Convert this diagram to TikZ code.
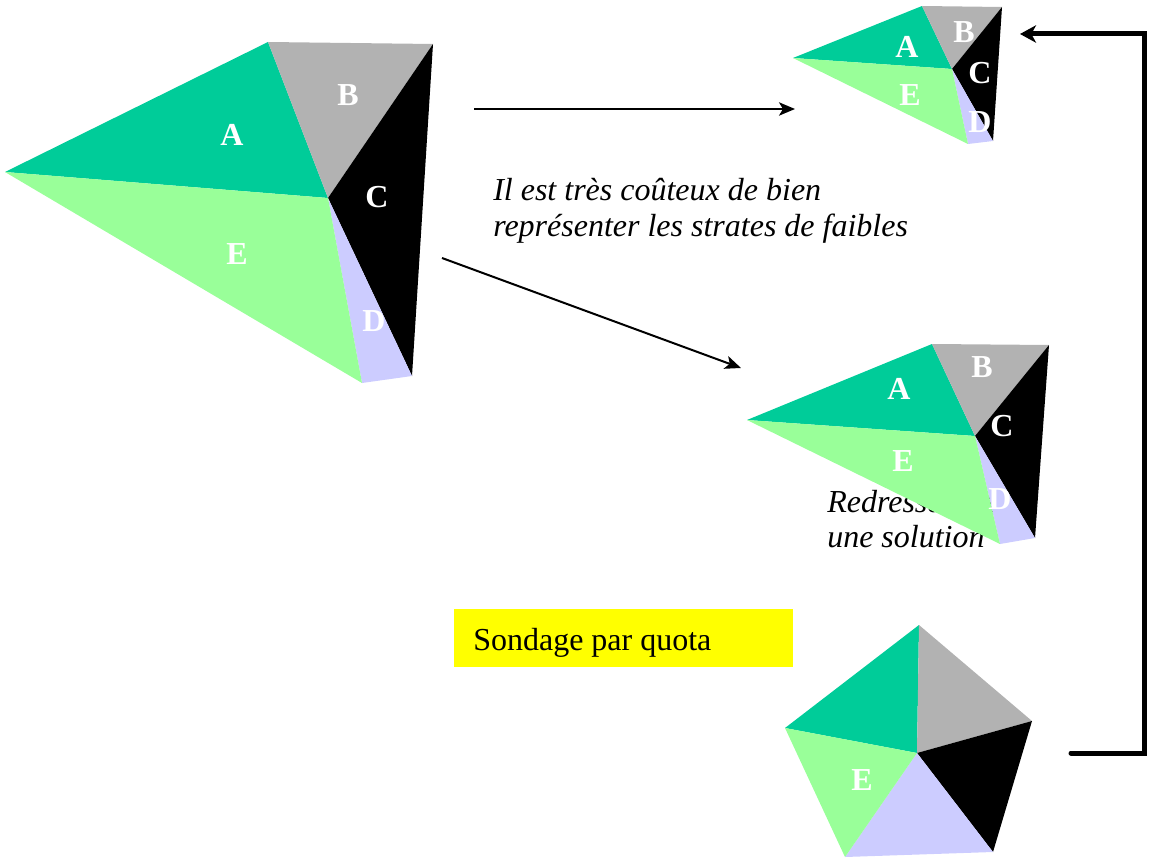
\documentclass[tikz,border=0pt]{standalone}
\usepackage{fontspec}
\setmainfont{Liberation Serif}
\usetikzlibrary{arrows.meta}
\definecolor{colA}{RGB}{0,204,153}
\definecolor{colB}{RGB}{178,178,178}
\definecolor{colC}{RGB}{0,0,0}
\definecolor{colD}{RGB}{204,204,255}
\definecolor{colE}{RGB}{153,255,153}
\definecolor{quotayellow}{RGB}{255,255,0}
\tikzset{
  lbl/.style={text=white, font=\fontsize{24}{28}\selectfont\bfseries, inner sep=0pt},
  itxt/.style={font=\fontsize{24}{28}\selectfont\itshape, inner sep=0pt, anchor=base west},
  thinarrow/.style={line width=1.5pt, -{Stealth[length=12pt, width=10pt, inset=3pt]}},
  thickarrow/.style={line width=3.75pt, line cap=round, line join=miter, -{Stealth[length=12pt, width=13pt, inset=3.5pt]}},
}
\begin{document}
\begin{tikzpicture}[x=0.75pt, y=-0.75pt]
\useasboundingbox (0,0) rectangle (1149,863);

% ---------- text under the middle figure ----------
\node[itxt] (red1) at (827,512) {Redressement};
\node[itxt] (red2) at (827,547) {une solution};

% ---------- big figure ----------
\coordinate (gL) at (5,172);
\coordinate (gT) at (268,42);
\coordinate (gR) at (433,44);
\coordinate (gO) at (328,198);
\coordinate (gC) at (412,376);
\coordinate (gD) at (362,383);
\fill[colA] (gL) -- (gT) -- (gO) -- cycle;
\fill[colB] (gT) -- (gR) -- (gO) -- cycle;
\fill[colC] (gO) -- (gR) -- (gC) -- cycle;
\fill[colD] (gO) -- (gC) -- (gD) -- cycle;
\fill[colE] (gL) -- (gO) -- (gD) -- cycle;
\node[lbl] (gA) at (232,135) {A};
\node[lbl] (gB) at (348,95) {B};
\node[lbl] (gCl) at (377,197) {C};
\node[lbl] (gE) at (237,254) {E};
\node[lbl] (gDl) at (374,321) {D};

% ---------- small top-right figure ----------
\coordinate (sL) at (793,58);
\coordinate (sT) at (922,6);
\coordinate (sR) at (1002,7);
\coordinate (sO) at (952,69);
\coordinate (sC) at (993,141);
\coordinate (sD) at (968,144);
\fill[colA] (sL) -- (sT) -- (sO) -- cycle;
\fill[colB] (sT) -- (sR) -- (sO) -- cycle;
\fill[colC] (sO) -- (sR) -- (sC) -- cycle;
\fill[colD] (sO) -- (sC) -- (sD) -- cycle;
\fill[colE] (sL) -- (sO) -- (sD) -- cycle;
\node[lbl] (sA) at (907,47) {A};
\node[lbl] (sB) at (964,32) {B};
\node[lbl] (sCl) at (980,73) {C};
\node[lbl] (sE) at (910,95) {E};
\node[lbl] (sDl) at (980,122) {D};

% ---------- middle figure ----------
\coordinate (mL) at (747,420);
\coordinate (mT) at (932,344);
\coordinate (mR) at (1049,345);
\coordinate (mO) at (975,436);
\coordinate (mC) at (1035,538);
\coordinate (mD) at (1000,544);
\fill[colA] (mL) -- (mT) -- (mO) -- cycle;
\fill[colB] (mT) -- (mR) -- (mO) -- cycle;
\fill[colC] (mO) -- (mR) -- (mC) -- cycle;
\fill[colD] (mO) -- (mC) -- (mD) -- cycle;
\fill[colE] (mL) -- (mO) -- (mD) -- cycle;
\node[lbl] (mA) at (899,389) {A};
\node[lbl] (mB) at (982,367) {B};
\node[lbl] (mCl) at (1002,426) {C};
\node[lbl] (mE) at (903,461) {E};
\node[lbl] (mDl) at (1000,499) {D};

% ---------- pentagon ----------
\coordinate (pT) at (919,625);
\coordinate (pR) at (1032,721);
\coordinate (pBR) at (993,852);
\coordinate (pBL) at (845,857);
\coordinate (pL) at (785,728);
\coordinate (pO) at (917,753);
\fill[colA] (pL) -- (pT) -- (pO) -- cycle;
\fill[colB] (pT) -- (pR) -- (pO) -- cycle;
\fill[colC] (pO) -- (pR) -- (pBR) -- cycle;
\fill[colD] (pO) -- (pBR) -- (pBL) -- cycle;
\fill[colE] (pL) -- (pO) -- (pBL) -- cycle;
\node[lbl] (pE) at (862,780) {E};

% ---------- texts ----------
\node[itxt] (cost1) at (493,200) {Il est très coûteux de bien};
\node[itxt] (cost2) at (493,236) {représenter les strates de faibles};

\node[fill=quotayellow, minimum width=339*0.75pt, minimum height=58*0.75pt, inner sep=0pt] (quota) at (623.5,638) {};
\node[font=\fontsize{24}{28}\selectfont, inner sep=0pt, anchor=base west] (quotatxt) at (473,650) {Sondage par quota};

% ---------- arrows ----------
\coordinate (a1s) at (474,109);
\coordinate (a1e) at (795,109);
\coordinate (a2s) at (442,258);
\coordinate (a2e) at (741,368);
\draw[thinarrow] (a1s) -- (a1e);
\draw[thinarrow] (a2s) -- (a2e);

\coordinate (bS) at (1071,753);
\coordinate (bC1) at (1144,753);
\coordinate (bC2) at (1144,34);
\coordinate (bE) at (1020,34);
\draw[thickarrow] (bS) -- (bC1) -- (bC2) -- (bE);
\end{tikzpicture}
\end{document}
